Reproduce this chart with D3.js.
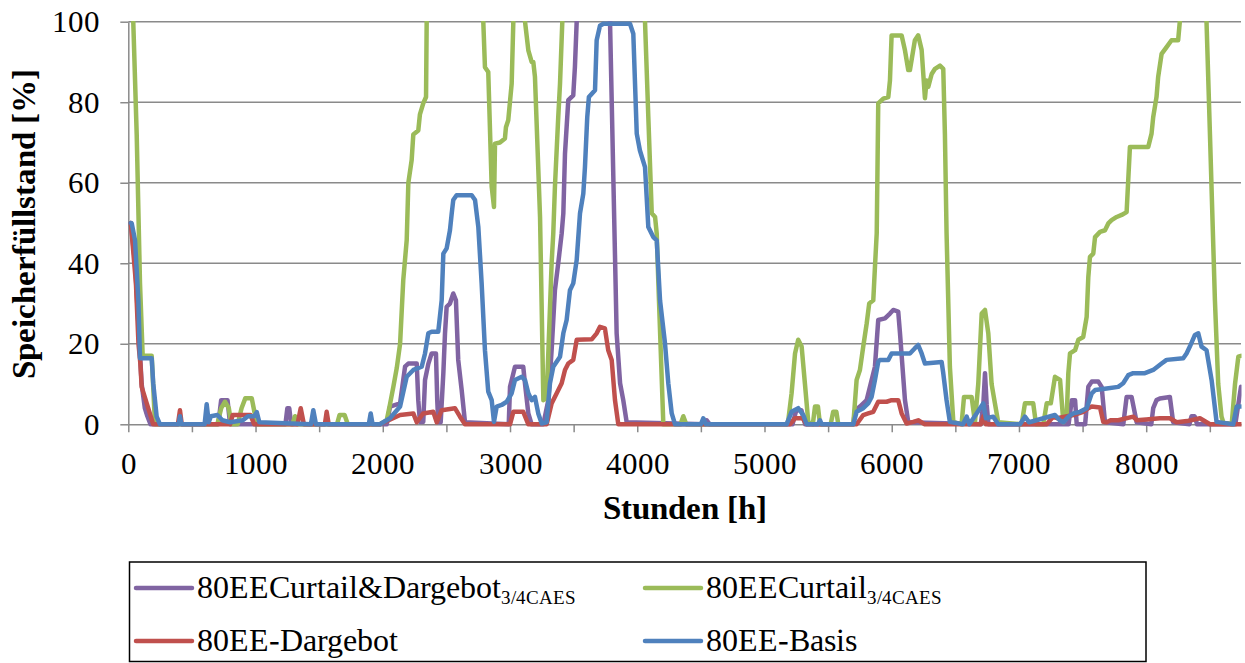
<!DOCTYPE html>
<html>
<head>
<meta charset="utf-8">
<script src="https://cdn.jsdelivr.net/npm/d3@7"></script>
<style>
  @font-face { font-family: "ChartSerif"; font-weight: 400; src: local("Liberation Serif"), local("LiberationSerif"), local("Tinos"); }
  @font-face { font-family: "ChartSerif"; font-weight: 700; src: local("Liberation Serif Bold"), local("LiberationSerif-Bold"), local("Tinos Bold"); }
  body { margin: 0; background: #fff; }
  svg { display: block; }
  svg text { font-family: "ChartSerif", "Liberation Serif", "Times New Roman", serif; }
</style>
</head>
<body>
<svg id="chart" width="1245" height="663"></svg>
<script>
// Storage fill level over the hours of one year, four scenarios.
// Each series is a list of [hour, fill %] points; values above 100 run off the plot top.
const xTickValues = [0, 500, 1000, 1500, 2000, 2500, 3000, 3500, 4000, 4500, 5000, 5500, 6000, 6500, 7000, 7500, 8000, 8500];
const xTickLabels = [0, 1000, 2000, 3000, 4000, 5000, 6000, 7000, 8000];
const yTickValues = [0, 20, 40, 60, 80, 100];
const hoursMax = 8745;

const seriesNames = ["80EECurtail&Dargebot", "80EECurtail", "80EE-Dargebot", "80EE-Basis"];
const seriesSubscripts = ["3/4CAES", "3/4CAES", "", ""];
const seriesColors = ["#8064A2", "#9BBB59", "#C0504D", "#4F81BD"];

const curtailDargebot = [
  [20,50],[53,40],[79,25],[105,10],[130,4],[150,2],[175,0],
  [707,0],[730,6],[780,6],[800,0],
  [1235,0],[1250,4],[1265,4],[1280,0],
  [2031,0],[2057,4.4],[2136,5.2],[2175,14.3],[2201,15.1],[2267,15.1],[2279,6],[2292,0.6],[2318,0.6],
  [2332,11],[2358,15],[2384,17.6],[2418,17.6],[2428,6],[2436,0.5],[2455,0.5],[2476,12.7],[2489,22.6],
  [2502,29.2],[2528,30],[2554,32.5],[2575,30.8],[2593,16],[2620,8.5],[2646,0.5],
  [2990,0],[3000,9.3],[3039,14.3],[3104,14.3],[3118,10],[3144,2.7],[3170,0],
  [3262,0],[3301,6],[3327,18.4],[3353,33.3],[3379,40],[3406,47.4],[3419,52.4],[3432,67.2],[3458,80.5],
  [3497,81.7],[3510,88.7],[3524,100],[3535,115],[3775,115],[3786,100],[3838,22.6],[3865,10.2],[3890,6],[3917,0.5],
  [4530,0],[4546,1],[4570,0],
  [5220,0],[5250,3.5],[5290,3.5],[5320,0],
  [5698,0],[5711,3.5],[5750,4.4],[5803,6],[5868,14.3],[5894,25.9],[5947,26.3],[5986,27.5],[6012,28.4],
  [6051,28],[6065,22.6],[6104,6],[6130,0.5],
  [6700,0],[6720,5],[6733,12.7],[6746,5],[6760,0],
  [7390,0],[7415,6],[7441,6],[7454,0],
  [7520,0],[7545,9.3],[7572,10.6],[7624,10.6],[7650,9.3],[7676,0.5],
  [7820,0],[7846,6.8],[7885,6.8],[7925,0.5],
  [8040,0],[8055,4],[8081,6],[8107,6.4],[8186,6.8],[8212,0.5],
  [8340,0],[8356,2],[8380,2],[8400,0],
  [8700,0],[8745,9.3]
];

const curtail = [
  [20,115],[39,100],[66,72],[92,35],[113,17],[184,17],[210,0],
  [700,0],[730,4],[760,5.6],[790,4],[810,0],
  [860,0],[890,4],[920,6.5],[970,6.5],[1010,0],
  [1290,0],[1310,2],[1330,0],
  [1640,0],[1660,2.3],[1700,2.3],[1725,0],
  [1978,0],[2031,1],[2057,5],[2083,9.3],[2110,14],[2136,20],[2161,35.8],[2188,45.7],[2201,60],
  [2227,65.6],[2240,72],[2279,73],[2292,77],[2318,79.7],[2340,81.3],[2345,100],[2360,130],
  [2775,130],[2790,100],[2803,88.7],[2829,87.5],[2856,59],[2874,54],[2882,69.7],[2921,70],[2960,71],
  [2968,73.8],[2986,75.5],[3013,84.6],[3026,100],[3040,130],[3105,130],[3118,100],[3144,92.9],
  [3170,90],[3183,90],[3196,86.3],[3236,51.5],[3262,6],[3288,6.5],[3327,40],[3340,47.4],[3353,59],
  [3379,76.3],[3393,84.6],[3411,100],[3425,130],[4045,130],[4061,100],[4087,76.3],[4114,52.4],
  [4140,51.5],[4153,47.4],[4166,35],[4205,0],
  [4340,0],[4362,2],[4385,0],
  [5174,0],[5187,1],[5213,7.7],[5240,17.6],[5265,21],[5292,19.3],[5318,10],[5344,0.6],
  [5380,0],[5397,4.4],[5420,4.4],[5436,0],[5520,0],[5540,3.1],[5565,3.1],[5580,0],
  [5698,0],[5724,11],[5750,13.5],[5776,19.3],[5803,25],[5823,30],[5855,30.8],[5868,39],[5882,47.4],
  [5894,79.7],[5934,80.9],[5973,81.3],[5986,85.4],[5999,96.6],[6078,96.6],[6104,92.9],[6130,88],
  [6143,88],[6182,95.4],[6208,96.6],[6235,93],[6261,81],[6274,85.4],[6287,83.8],[6314,87],[6340,88.3],
  [6379,89.1],[6405,88.3],[6418,72],[6431,47.4],[6457,14.3],[6484,0.6],
  [6549,0],[6568,6.8],[6628,6.8],[6654,0.5],[6680,10],[6707,27.5],[6733,28.4],[6759,22.6],[6785,10],
  [6811,5.2],[6837,0.5],
  [7021,0],[7047,5.2],[7112,5.2],[7134,0],[7191,0],[7218,5.2],[7250,5.2],[7283,11.8],[7323,11],
  [7349,0.5],[7375,1.9],[7388,12.7],[7401,17.6],[7441,18.4],[7467,21],[7505,21.7],[7532,26.7],
  [7545,36.6],[7558,41.6],[7584,42.4],[7598,46.5],[7637,47.8],[7676,48.2],[7702,49.9],[7728,50.7],
  [7768,51.5],[7807,52],[7846,52.7],[7872,68.9],[8016,68.9],[8042,72.2],[8055,76.3],[8081,81.3],
  [8094,86.3],[8121,92],[8160,93.7],[8199,95.4],[8251,95.4],[8264,100],[8280,130],[8460,130],
  [8474,100],[8501,72],[8540,30.8],[8566,10],[8592,1.9],[8605,0.6],
  [8672,0],[8698,10],[8724,16.8],[8745,17]
];

const dargebot = [
  [20,50],[60,35],[80,20],[95,15],[105,9.3],[145,5.2],[196,0],
  [390,0],[406,3.5],[420,0],
  [800,0],[820,2.3],[960,2.3],[990,0],
  [1330,0],[1355,4],[1380,0],
  [1545,0],[1559,3.1],[1575,0],
  [1978,0],[2136,2.3],[2240,2.7],[2267,0.5],[2318,2.7],[2397,3.1],[2424,0.5],[2463,3.5],
  [2567,4],[2607,1.9],[2646,0],
  [3000,0],[3026,3.1],[3104,3.1],[3144,0],
  [3288,0],[3327,5.2],[3367,7.7],[3406,10.2],[3432,13.5],[3458,15.1],[3497,16],[3524,21],
  [3642,21.1],[3681,22.6],[3707,24.2],[3746,23.8],[3772,18.4],[3799,16],[3825,6],[3851,0],
  [5200,0],[5240,1.5],[5300,1.5],[5330,0],
  [5724,0],[5776,2.3],[5815,2.7],[5855,3.1],[5894,5.6],[5960,5.6],[5999,6],[6051,6],[6078,2.7],
  [6117,0.2],[6169,0.6],[6208,1],[6260,0],
  [6700,0],[6720,2],[6740,0],
  [7218,0],[7270,1.9],[7300,1.5],[7428,2.3],[7505,3.1],[7545,4],[7572,4.4],[7637,4.2],[7663,0.6],
  [7689,0.5],[7720,1],[7780,1],[7898,1.9],[7925,1],[8000,1.2],[8107,1.5],[8186,1.5],[8239,0.5],
  [8320,0.8],[8422,1.5],[8501,0],[8745,0]
];

const basis = [
  [20,50],[27,49.9],[53,45.7],[79,30.8],[92,16.4],[184,16.4],[196,10.2],[223,1.9],[249,0],
  [395,0],[406,2],[418,0],
  [600,0],[616,5],[632,0.5],[650,2],[700,2.3],[740,1],[800,0.5],[900,1],[940,2],[990,2],[1010,3],[1030,0.5],
  [1435,0],[1454,3.5],[1475,0],
  [1890,0],[1905,2.7],[1920,0],
  [1978,0],[2057,1.5],[2136,4.4],[2188,11.8],[2240,13.5],[2306,14.3],[2332,17.6],[2358,22.6],
  [2384,23],[2436,23],[2463,30.8],[2476,42.4],[2502,43.7],[2528,48.2],[2542,52.4],[2554,55.7],
  [2580,56.9],[2699,56.9],[2725,55.7],[2751,49],[2777,35],[2803,18.4],[2829,8.1],[2856,6],[2874,0.6],
  [2895,4.4],[2934,4.8],[2974,5.6],[3013,7.7],[3039,11],[3092,11.8],[3118,11],[3144,7.7],[3170,6],
  [3196,6.8],[3222,2.7],[3249,0.2],[3288,0.5],[3314,10.2],[3340,14.3],[3393,16.8],[3419,22.6],
  [3445,25.9],[3471,33.3],[3497,35],[3524,40.8],[3550,52.4],[3576,57.3],[3589,63.9],[3607,76.3],
  [3620,81.3],[3668,83],[3681,95.4],[3707,99],[3733,99.5],[3943,99.5],[3969,97],[3996,72.2],
  [4021,68],[4061,63.9],[4087,49],[4126,46.5],[4153,45.7],[4179,30.8],[4218,20.1],[4244,10.2],
  [4271,2.7],[4297,0],
  [4500,0],[4519,1.5],[4540,0],
  [5174,0],[5213,3.1],[5265,4],[5305,2.3],[5331,0],
  [5420,0],[5436,1],[5450,0],
  [5698,0],[5724,3.1],[5776,4],[5815,5.2],[5842,6.8],[5868,11],[5894,15.5],[5907,16],[5973,16],
  [5999,17.6],[6143,17.6],[6182,18.9],[6208,19.7],[6235,17.6],[6261,15.1],[6392,15.5],[6405,12.7],
  [6431,6],[6457,0.6],
  [6560,0],[6589,1.9],[6610,0],[6667,2.7],[6720,5.2],[6740,1.5],[6798,1.9],[6837,0],
  [7008,0],[7047,1.9],[7080,0.5],[7283,2.3],[7320,1],[7349,0.5],[7388,1.9],[7428,2.7],[7480,3.1],
  [7532,4],[7572,7.7],[7598,8.5],[7689,8.9],[7780,9.3],[7819,10.2],[7859,12.2],[7898,12.7],
  [7990,12.7],[8055,13.5],[8121,15.1],[8160,16],[8291,16.4],[8317,17.6],[8343,19.3],[8383,22.2],
  [8409,22.6],[8435,19.3],[8474,18.4],[8514,11],[8553,0.6],[8684,0],[8711,4.4],[8745,4.4]
];

const seriesData = [curtailDargebot, curtail, dargebot, basis];

// ---- layout ----
const plot = { left: 128.3, right: 1241, top: 21.7, bottom: 424.3 };
const svg = d3.select("#chart");

const x = d3.scaleLinear().domain([0, hoursMax]).range([plot.left, plot.right]);
const y = d3.scaleLinear().domain([0, 100]).range([plot.bottom, plot.top]);

const gridColor = "#8a8a8a";

// horizontal gridlines
svg.append("g")
  .selectAll("line")
  .data(yTickValues.filter(v => v > 0))
  .join("line")
  .attr("x1", plot.left).attr("x2", plot.right)
  .attr("y1", d => y(d)).attr("y2", d => y(d))
  .attr("stroke", gridColor).attr("stroke-width", 1.5);

// y axis
const yAxis = svg.append("g")
  .attr("transform", `translate(${plot.left},0)`)
  .call(d3.axisLeft(y).tickValues(yTickValues).tickSize(8).tickSizeOuter(0).tickPadding(20));
yAxis.attr("font-family", null).attr("font-size", null);
yAxis.select(".domain").attr("stroke", gridColor).attr("stroke-width", 1.5);
yAxis.selectAll(".tick line").attr("stroke", gridColor).attr("stroke-width", 1.5);
yAxis.selectAll(".tick text").attr("fill", "#000").style("font-size", "31px");

// x axis: ticks every 500 h, labels every 1000 h
const xAxis = svg.append("g")
  .attr("transform", `translate(0,${plot.bottom})`)
  .call(d3.axisBottom(x).tickValues(xTickValues).tickSize(8).tickSizeOuter(0)
    .tickFormat(d => xTickLabels.includes(d) ? String(d) : ""));
xAxis.attr("font-family", null).attr("font-size", null);
xAxis.select(".domain").attr("stroke", gridColor).attr("stroke-width", 1.5);
xAxis.selectAll(".tick line").attr("stroke", gridColor).attr("stroke-width", 1.5);
xAxis.selectAll(".tick text").attr("dy", null).attr("y", 49.7).attr("fill", "#000")
  .style("font-size", "31px");

// axis titles
svg.append("text")
  .attr("x", (plot.left + plot.right) / 2).attr("y", 519)
  .attr("text-anchor", "middle")
  .style("font-size", "32.5px").style("font-weight", "700")
  .text("Stunden [h]");

svg.append("text")
  .attr("transform", "translate(35,224) rotate(-90)")
  .attr("text-anchor", "middle")
  .style("font-size", "32.5px").style("font-weight", "700")
  .text("Speicherfüllstand [%]");

// series lines, clipped to the plot area
svg.append("clipPath").attr("id", "plot-clip")
  .append("rect")
  .attr("x", plot.left - 4).attr("y", 21)
  .attr("width", plot.right - plot.left + 4.5)
  .attr("height", 430 - 21);

const line = d3.line().x(d => x(d[0])).y(d => y(d[1]));

svg.append("g").attr("clip-path", "url(#plot-clip)")
  .selectAll("path")
  .data(seriesData)
  .join("path")
  .attr("d", line)
  .attr("fill", "none")
  .attr("stroke", (d, i) => seriesColors[i])
  .attr("stroke-width", 4.5)
  .attr("stroke-linejoin", "round")
  .attr("stroke-linecap", "round");

// legend
svg.append("rect")
  .attr("x", 129.5).attr("y", 562).attr("width", 1016.5).attr("height", 99.5)
  .attr("fill", "none").attr("stroke", "#000").attr("stroke-width", 1.5);

const legendPos = [
  { lx: 136, ly: 588 },
  { lx: 645, ly: 588 },
  { lx: 136, ly: 641 },
  { lx: 645, ly: 641 }
];

const legend = svg.append("g")
  .selectAll("g")
  .data(seriesNames)
  .join("g")
  .attr("transform", (d, i) => `translate(${legendPos[i].lx},${legendPos[i].ly})`);

legend.append("line")
  .attr("x1", 0).attr("x2", 56).attr("y1", 0).attr("y2", 0)
  .attr("stroke", (d, i) => seriesColors[i])
  .attr("stroke-width", 4.5).attr("stroke-linecap", "round");

const legendText = legend.append("text")
  .attr("x", 61).attr("y", 9.5)
  .style("font-size", "32px");
legendText.append("tspan").text(d => d);
legendText.append("tspan")
  .attr("dy", 6)
  .style("font-size", "19px")
  .text((d, i) => seriesSubscripts[i]);
</script>
</body>
</html>
